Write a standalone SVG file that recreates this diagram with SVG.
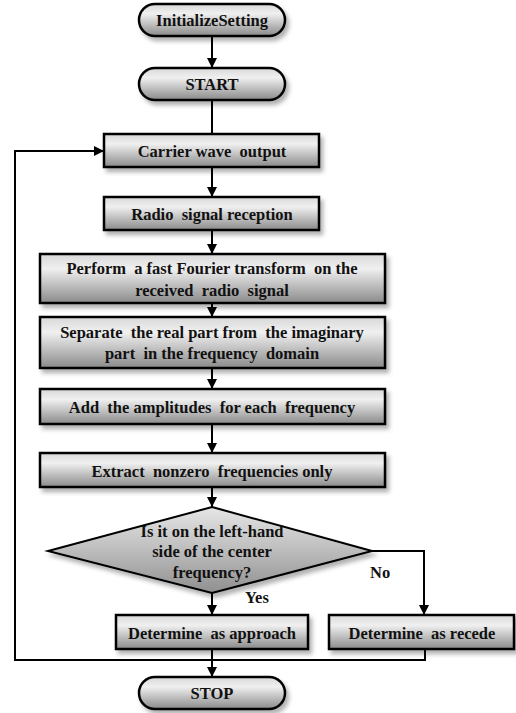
<svg xmlns="http://www.w3.org/2000/svg" width="516" height="713" viewBox="0 0 516 713">
<defs>
<linearGradient id="g" x1="0" y1="0" x2="0" y2="1">
<stop offset="0" stop-color="#d8d8d8"/>
<stop offset="0.3" stop-color="#f0f0f0"/>
<stop offset="1" stop-color="#8a8a8a"/>
</linearGradient>
<linearGradient id="gd" x1="0" y1="0" x2="0" y2="1">
<stop offset="0" stop-color="#e6e6e6"/>
<stop offset="0.5" stop-color="#bdbdbd"/>
<stop offset="1" stop-color="#8f8f8f"/>
</linearGradient>
<filter id="sh" x="-10%" y="-20%" width="130%" height="160%">
<feDropShadow dx="3" dy="4" stdDeviation="2" flood-color="#000" flood-opacity="0.3"/>
</filter>
<marker id="ah" viewBox="0 0 10 10" refX="10" refY="5" markerWidth="5" markerHeight="5" orient="auto" markerUnits="strokeWidth">
<path d="M0,0 L10,5 L0,10 z" fill="#000"/>
</marker>
</defs>
<style>
.n{fill:url(#g);stroke:#000;stroke-width:2.5;filter:url(#sh)}
.d{fill:url(#gd);stroke:#000;stroke-width:2;filter:url(#sh)}
text{font-family:'Liberation Serif','Times New Roman',serif;font-weight:bold;font-size:16.5px;fill:#111;white-space:pre}
.t{text-anchor:middle;dominant-baseline:central}
.c{fill:none;stroke:#000;stroke-width:2}
.a{marker-end:url(#ah)}
</style>
<g id="connectors">
<path class="c a" d="M212,36 V68"/>
<path class="c" d="M212,100 V133"/>
<path class="c a" d="M212,167 V197"/>
<path class="c a" d="M212,230 V254"/>
<path class="c a" d="M212,286 V317"/>
<path class="c a" d="M212,352 V389"/>
<path class="c a" d="M212,424 V453"/>
<path class="c a" d="M212,487 V507"/>
<path class="c a" d="M212,593 V615"/>
<path class="c a" d="M372,551 H424 V615"/>
<path class="c a" d="M425,649 V660 H15 V151 H104"/>
<path class="c a" d="M212,649 V677"/>
<text x="245" y="603">Yes</text>
<text x="370" y="578">No</text>
</g>
<g id="init"><rect class="n" x="139" y="4" width="146" height="32" rx="16"/><text class="t" x="212" y="20" font-size="14.5">InitializeSetting</text></g>
<g id="start"><rect class="n" x="139" y="68" width="146" height="32" rx="16"/><text class="t" x="212" y="84">START</text></g>
<g id="carrier"><rect class="n" x="104" y="134" width="215" height="33"/><text class="t" x="212" y="151">Carrier wave  output</text></g>
<g id="radio"><rect class="n" x="104" y="197" width="215" height="33"/><text class="t" x="212" y="214">Radio  signal reception</text></g>
<g id="fft"><rect class="n" x="40" y="254" width="345" height="49"/><text class="t" x="212" y="268">Perform  a fast Fourier transform  on the</text><text class="t" x="212" y="290">received  radio  signal</text></g>
<g id="separate"><rect class="n" x="40" y="317" width="345" height="51"/><text class="t" x="212" y="332">Separate  the real part from  the imaginary</text><text class="t" x="212" y="353">part  in the frequency  domain</text></g>
<g id="add"><rect class="n" x="40" y="389" width="345" height="35"/><text class="t" x="212" y="407">Add  the amplitudes  for each  frequency</text></g>
<g id="extract"><rect class="n" x="40" y="453" width="345" height="34"/><text class="t" x="212" y="471">Extract  nonzero  frequencies only</text></g>
<g id="decision"><polygon class="d" points="212,507 372,551 212,593 48,551"/><text class="t" x="212" y="531">Is it on the left-hand</text><text class="t" x="212" y="551">side of the center</text><text class="t" x="212" y="572">frequency?</text></g>
<g id="approach"><rect class="n" x="116" y="615" width="192" height="34"/><text class="t" x="212" y="633">Determine  as approach</text></g>
<g id="recede"><rect class="n" x="329" y="615" width="185" height="34"/><text class="t" x="422" y="633">Determine  as recede</text></g>
<g id="stop"><rect class="n" x="139" y="677" width="146" height="32" rx="16"/><text class="t" x="212" y="693">STOP</text></g>
</svg>
